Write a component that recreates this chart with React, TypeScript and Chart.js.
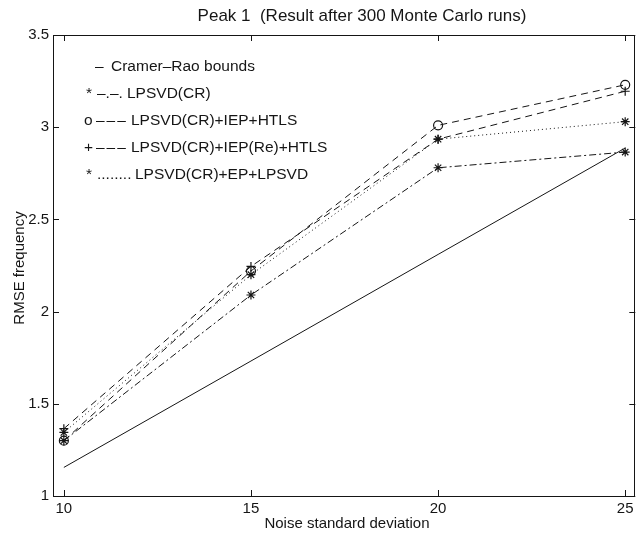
import React, { useEffect, useRef } from "react";
import { Chart, registerables } from "chart.js";

Chart.register(...registerables);

const noiseLevels = [10, 15, 20, 25];
const crBounds = [1.155, 1.732, 2.31, 2.887];
const lpsvdCR = [1.3, 2.09, 2.78, 2.865];
const iepHtls = [1.3, 2.22, 3.01, 3.23];
const iepReHtls = [1.365, 2.245, 2.935, 3.195];
const epLpsvd = [1.345, 2.2, 2.935, 3.03];

const xTicks = [10, 15, 20, 25];
const xTickLabels = ["10", "15", "20", "25"];
const yTicks = [1, 1.5, 2, 2.5, 3, 3.5];
const yTickLabels = ["1", "1.5", "2", "2.5", "3", "3.5"];

const titleText = "Peak 1  (Result after 300 Monte Carlo runs)";
const xTitle = "Noise standard deviation";
const yTitle = "RMSE frequency";

const legendMarkers = ["", "*", "o", "+", "*"];
const legendLines = ["–", "–.–.", "–––", "–––", "........"];
const legendLabels = [
  "Cramer–Rao bounds",
  "LPSVD(CR)",
  "LPSVD(CR)+IEP+HTLS",
  "LPSVD(CR)+IEP(Re)+HTLS",
  "LPSVD(CR)+EP+LPSVD",
];

const INK = "#151515";
const FONT = "'Liberation Sans', Arial, Helvetica, sans-serif";

const pts = (ys: number[]) => noiseLevels.map((x, i) => ({ x, y: ys[i] }));

const decorPlugin = {
  id: "matlabDecor",
  afterDraw(chart: any) {
    const ctx = chart.ctx as CanvasRenderingContext2D;
    const { left, right, top, bottom } = chart.chartArea;
    const xs = chart.scales.x;
    const ys = chart.scales.y;
    ctx.save();
    ctx.strokeStyle = INK;
    ctx.lineWidth = 1;
    ctx.setLineDash([]);
    ctx.strokeRect(Math.round(left) + 0.5, Math.round(top) + 0.5, Math.round(right - left) - 1, Math.round(bottom - top));
    const tl = 6;
    ctx.beginPath();
    xTicks.forEach((v) => {
      const px = Math.round(xs.getPixelForValue(v)) + 0.5;
      ctx.moveTo(px, bottom);
      ctx.lineTo(px, bottom - tl);
      ctx.moveTo(px, top);
      ctx.lineTo(px, top + tl);
    });
    yTicks.forEach((v) => {
      const py = Math.round(ys.getPixelForValue(v)) + 0.5;
      ctx.moveTo(left, py);
      ctx.lineTo(left + tl, py);
      ctx.moveTo(right, py);
      ctx.lineTo(right - tl, py);
    });
    ctx.stroke();

    ctx.fillStyle = INK;
    ctx.font = `15px ${FONT}`;
    ctx.textAlign = "center";
    ctx.textBaseline = "middle";
    xTicks.forEach((v, i) => {
      ctx.fillText(xTickLabels[i], xs.getPixelForValue(v), bottom + 13);
    });
    ctx.textAlign = "right";
    yTicks.forEach((v, i) => {
      ctx.fillText(yTickLabels[i], left - 4, ys.getPixelForValue(v));
    });

    ctx.textAlign = "center";
    ctx.fillText(xTitle, 347, 524);
    ctx.save();
    ctx.translate(20, 268);
    ctx.rotate(-Math.PI / 2);
    ctx.fillText(yTitle, 0, 0);
    ctx.restore();

    ctx.font = `17px ${FONT}`;
    ctx.fillText(titleText, 362, 16);

    ctx.font = `15.5px ${FONT}`;
    ctx.textAlign = "left";
    const markX = [0, 86, 84, 84, 86];
    const lineX = [95, 97, 96, 96, 97];
    const labX = [111, 127, 131, 131, 135];
    legendLabels.forEach((lab, i) => {
      const y = 67 + i * 27;
      if (legendMarkers[i]) ctx.fillText(legendMarkers[i], markX[i], y);
      (ctx as any).letterSpacing = i === 2 || i === 3 ? "2px" : "0px";
      ctx.fillText(legendLines[i], lineX[i], y);
      (ctx as any).letterSpacing = "0px";
      ctx.fillText(lab, labX[i], y);
    });
    ctx.restore();
  },
};

export default function App() {
  const ref = useRef<HTMLCanvasElement | null>(null);
  useEffect(() => {
    if (!ref.current) return;
    const common = {
      borderColor: INK,
      borderWidth: 1,
      pointBorderColor: INK,
      pointBackgroundColor: "rgba(0,0,0,0)",
      pointBorderWidth: 1.2,
      pointRadius: 4.5,
      fill: false,
      tension: 0,
    };
    const chart = new Chart(ref.current, {
      type: "line",
      data: {
        datasets: [
          { ...common, label: legendLabels[0], data: pts(crBounds), pointRadius: 0 },
          { ...common, label: legendLabels[1], data: pts(lpsvdCR), borderDash: [7, 3, 2, 3], pointStyle: "star" },
          { ...common, label: legendLabels[2], data: pts(iepHtls), borderDash: [7, 5], pointStyle: "circle" },
          { ...common, label: legendLabels[3], data: pts(iepReHtls), borderDash: [7, 5], pointStyle: "cross" },
          { ...common, label: legendLabels[4], data: pts(epLpsvd), borderDash: [1, 3], pointStyle: "star" },
        ],
      },
      options: {
        responsive: false,
        animation: false,
        events: [],
        layout: { padding: { left: 53, top: 35, right: 2, bottom: 39 } },
        plugins: { legend: { display: false }, title: { display: false }, tooltip: { enabled: false } },
        scales: {
          x: { type: "linear", display: false, min: 9.71, max: 25.27 },
          y: { type: "linear", display: false, min: 1, max: 3.5 },
        },
      },
      plugins: [decorPlugin],
    });
    return () => chart.destroy();
  }, []);
  return (
    <div style={{ position: "absolute", left: 0, top: 0, width: 641, height: 535, background: "#fff" }}>
      <canvas ref={ref} width={641} height={535} />
    </div>
  );
}
